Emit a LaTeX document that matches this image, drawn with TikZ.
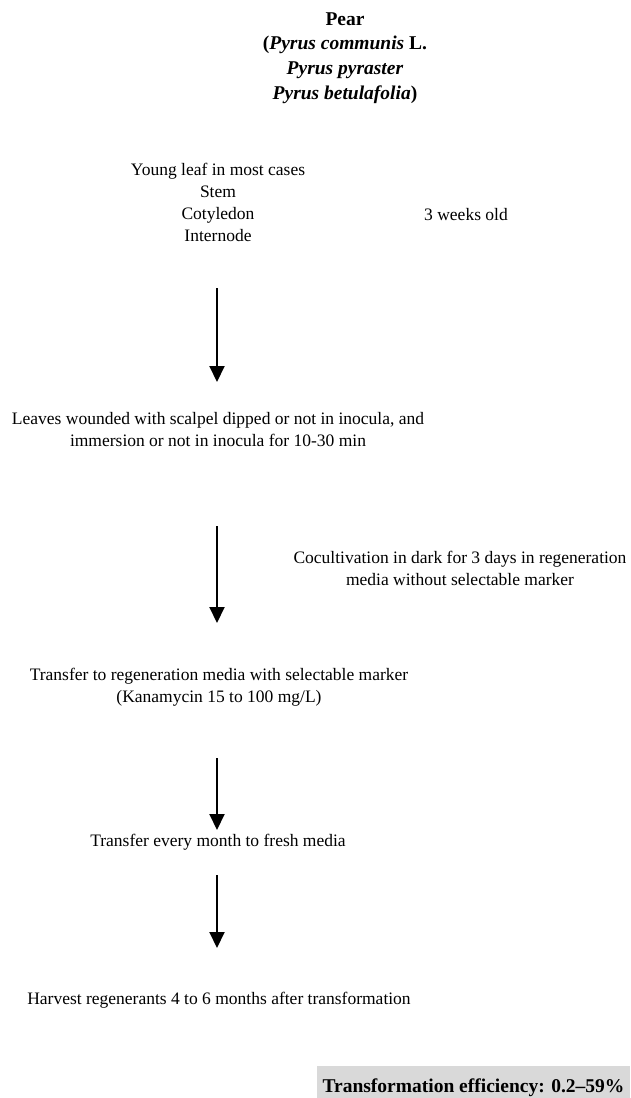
\documentclass[tikz,border=0pt]{standalone}
\usepackage{fontspec}
\setmainfont{Liberation Serif}
\usetikzlibrary{arrows.meta}

\begin{document}
\begin{tikzpicture}[x=1pt, y=-1pt, inner sep=0pt,
    txt/.style={align=center, font=\fontsize{17.5}{22}\selectfont},
    ttl/.style={align=center, font=\fontsize{19.5}{24.7}\selectfont\bfseries},
    stepflow/.style={-{Triangle[width=15pt,length=16pt]}, line width=2pt}]

    \useasboundingbox (0, 0) rectangle (630, 1098);
    \clip (0, 0) rectangle (630, 1098);

    % Node definitions
    \node (pear) at (345, 58) [ttl] {Pear\\(\textit{Pyrus communis} L.\\\textit{Pyrus pyraster}\\\textit{Pyrus betulafolia})};
    \node (explant) at (218, 202) [txt] {Young leaf in most cases\\Stem\\Cotyledon\\Internode};
    \node (age) at (466, 215) [txt] {3 weeks old};
    \node (wound) at (218, 430) [txt] {Leaves wounded with scalpel dipped or not in inocula, and\\immersion or not in inocula for 10-30 min};
    \node (cocult) at (460, 568) [txt] {Cocultivation in dark for 3 days in regeneration\\media without selectable marker};
    \node (select) at (219, 687) [txt] {Transfer to regeneration media with selectable marker\\(Kanamycin 15 to 100 mg/L)};
    \node (monthly) at (218, 842) [txt] {Transfer every month to fresh media};
    \node (harvest) at (219, 1000) [txt] {Harvest regenerants 4 to 6 months after transformation};
    \node (eff) at (473.5, 1088) [fill=gray!30, minimum width=313pt, minimum height=44pt,
        font=\fontsize{19.5}{24}\selectfont\bfseries] {Transformation efficiency: 0.2--59\%};

    % Arrow ends
    \coordinate (a1) at (217, 288);  \coordinate (b1) at (217, 382);
    \coordinate (a2) at (217, 526);  \coordinate (b2) at (217, 623);
    \coordinate (a3) at (217, 758);  \coordinate (b3) at (217, 830);
    \coordinate (a4) at (217, 875);  \coordinate (b4) at (217, 948);

    % Edge definitions
    \draw[stepflow] (a1) -- (b1);
    \draw[stepflow] (a2) -- (b2);
    \draw[stepflow] (a3) -- (b3);
    \draw[stepflow] (a4) -- (b4);
\end{tikzpicture}
\end{document}
